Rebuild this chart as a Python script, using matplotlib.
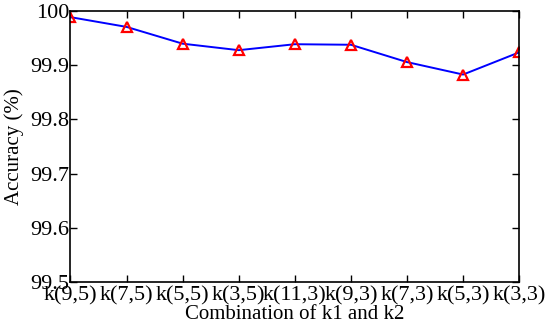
import matplotlib.pyplot as plt

combos = ['k(9,5)', 'k(7,5)', 'k(5,5)', 'k(3,5)', 'k(11,3)',
          'k(9,3)', 'k(7,3)', 'k(5,3)', 'k(3,3)']
accuracy = [99.989, 99.971, 99.940, 99.928, 99.939,
            99.938, 99.906, 99.883, 99.924]
yticks = [99.5, 99.6, 99.7, 99.8, 99.9, 100]
ylabels = ['99.5', '99.6', '99.7', '99.8', '99.9', '100']

plt.rcParams['font.family'] = ['Liberation Serif', 'DejaVu Serif']

fig = plt.figure(figsize=(5.5, 3.29), dpi=100)
ax = fig.add_axes([0.128, 0.143, 0.816, 0.823])

x = range(len(combos))
ax.plot(x, accuracy, color='blue', linewidth=1.4,
        marker='^', markersize=6.5, markerfacecolor='none',
        markeredgecolor='red', markeredgewidth=1.6)

ax.set_xlim(0, len(combos) - 1)
ax.set_ylim(99.5, 100)
ax.set_xticks(list(x))
ax.set_xticklabels(combos)
ax.set_yticks(yticks)
ax.set_yticklabels(ylabels)
ax.tick_params(direction='in', top=True, right=True, length=5, width=1,
               labelsize=16)
ax.tick_params(axis='x', pad=3)
ax.tick_params(axis='y', pad=1)
for s in ax.spines.values():
    s.set_linewidth(1.2)

ax.set_xlabel('Combination of k1 and k2', fontsize=15, labelpad=0)
ax.set_ylabel('Accuracy (%)', fontsize=15, labelpad=4)

fig.savefig('out.png', dpi=100)
